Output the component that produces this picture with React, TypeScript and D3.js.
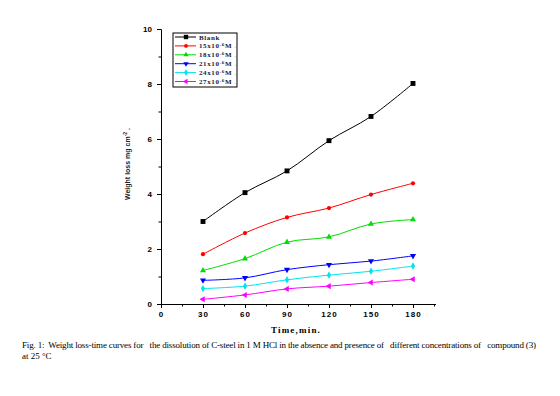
import React, { useEffect, useRef } from 'react';
import * as d3 from 'd3';

// tempi (min) e perdite di peso
const times = [30, 60, 90, 120, 150, 180];
const blank = [3.0, 4.05, 4.84, 5.94, 6.82, 8.02];
const c15 = [1.81, 2.58, 3.15, 3.49, 3.98, 4.39];
const c18 = [1.22, 1.65, 2.25, 2.44, 2.91, 3.07];
const c21 = [0.86, 0.95, 1.25, 1.43, 1.56, 1.75];
const c24 = [0.56, 0.65, 0.88, 1.05, 1.19, 1.38];
const c27 = [0.17, 0.33, 0.55, 0.65, 0.78, 0.9];

const seriesNames = ['Blank', '15', '18', '21', '24', '27'];
const seriesColors = ['#000000', '#ff0000', '#00dd00', '#0000ff', '#00e5ee', '#ff00ff'];
const xTicks = [0, 30, 60, 90, 120, 150, 180];
const yTicks = [0, 2, 4, 6, 8, 10];

const App: React.FC = () => {
  const ref = useRef<SVGSVGElement>(null);

  useEffect(() => {
    const svg = d3.select(ref.current);
    svg.selectAll('*').remove();

    const x = d3.scaleLinear().domain([0, 196]).range([161, 435.4]);
    const y = d3.scaleLinear().domain([0, 10]).range([304, 29]);

    const values = [blank, c15, c18, c21, c24, c27];
    const symbols = [
      { type: d3.symbolSquare, size: 24, rot: 0 },
      { type: d3.symbolCircle, size: 14, rot: 0 },
      { type: d3.symbolTriangle, size: 16, rot: 0 },
      { type: d3.symbolTriangle, size: 16, rot: 180 },
      { type: d3.symbolDiamond, size: 16, rot: 0 },
      { type: d3.symbolTriangle, size: 16, rot: -90 },
    ];

    // Asse X: tacche minori + maggiori con etichette
    svg
      .append('g')
      .attr('transform', `translate(0,${y(0)})`)
      .call(d3.axisBottom(x).tickValues(d3.range(15, 196, 30)).tickSize(2.5).tickFormat(() => '').tickSizeOuter(0));
    const xAxis = svg
      .append('g')
      .attr('transform', `translate(0,${y(0)})`)
      .call(d3.axisBottom(x).tickValues(xTicks).tickSize(4).tickPadding(3).tickSizeOuter(0).tickFormat(d3.format('d')));
    xAxis
      .selectAll('text')
      .attr('fill', '#000')
      .attr('font-family', 'Liberation Sans, Arial, sans-serif')
      .attr('font-weight', 'bold')
      .attr('font-size', 8)
      .attr('letter-spacing', 1);

    // Asse Y
    svg
      .append('g')
      .attr('transform', `translate(${x(0)},0)`)
      .call(d3.axisLeft(y).tickValues(d3.range(1, 10, 2)).tickSize(2.5).tickFormat(() => '').tickSizeOuter(0));
    const yAxis = svg
      .append('g')
      .attr('transform', `translate(${x(0)},0)`)
      .call(d3.axisLeft(y).tickValues(yTicks).tickSize(4).tickPadding(5).tickSizeOuter(0).tickFormat(d3.format('d')));
    yAxis
      .selectAll('text')
      .attr('fill', '#000')
      .attr('font-family', 'Liberation Sans, Arial, sans-serif')
      .attr('font-weight', 'bold')
      .attr('font-size', 8);

    // Titoli degli assi
    svg
      .append('text')
      .attr('x', 296)
      .attr('y', 333)
      .attr('text-anchor', 'middle')
      .attr('font-family', 'Liberation Serif, Times New Roman, serif')
      .attr('font-weight', 'bold')
      .attr('font-size', 9)
      .attr('letter-spacing', 1.2)
      .text('Time,min.');

    const yt = svg
      .append('text')
      .attr('transform', 'translate(130,164) rotate(-90)')
      .attr('text-anchor', 'middle')
      .attr('font-family', 'Liberation Sans, Arial, sans-serif')
      .attr('font-weight', 'bold')
      .attr('font-size', 7)
      .attr('fill', '#222');
    yt.append('tspan').text('Weight loss mg cm');
    yt.append('tspan').attr('dy', -3).attr('font-size', 5).text('-2');
    yt.append('tspan').attr('dy', 3).text(' .');

    // Curve
    const line = d3
      .line<number>()
      .x((_, i) => x(times[i]))
      .y(d => y(d))
      .curve(d3.curveCatmullRom.alpha(0.5));

    values.forEach((vals, s) => {
      svg
        .append('path')
        .attr('d', line(vals))
        .attr('fill', 'none')
        .attr('stroke', seriesColors[s])
        .attr('stroke-width', 1);
      const sym = d3.symbol().type(symbols[s].type).size(symbols[s].size);
      svg
        .selectAll(`.m${s}`)
        .data(vals)
        .enter()
        .append('path')
        .attr('class', `m${s}`)
        .attr('d', sym()!)
        .attr('transform', (d, i) => `translate(${x(times[i])},${y(d)}) rotate(${symbols[s].rot})`)
        .attr('fill', seriesColors[s]);
    });

    // Legenda
    const lg = svg.append('g');
    lg.append('rect')
      .attr('x', 173)
      .attr('y', 33)
      .attr('width', 64)
      .attr('height', 54)
      .attr('fill', '#fff')
      .attr('stroke', '#000')
      .attr('stroke-width', 1);
    seriesNames.forEach((name, s) => {
      const ry = 37 + s * 8.9;
      lg.append('line')
        .attr('x1', 175)
        .attr('x2', 196)
        .attr('y1', ry)
        .attr('y2', ry)
        .attr('stroke', seriesColors[s]);
      lg.append('path')
        .attr('d', d3.symbol().type(symbols[s].type).size(symbols[s].size * 0.8)()!)
        .attr('transform', `translate(186,${ry}) rotate(${symbols[s].rot})`)
        .attr('fill', seriesColors[s]);
      const t = lg
        .append('text')
        .attr('x', 199)
        .attr('y', ry + 2.5)
        .attr('font-family', 'Liberation Serif, Times New Roman, serif')
        .attr('font-weight', 'bold')
        .attr('font-size', 7)
        .attr('letter-spacing', 0.6)
        .attr('fill', '#1a1a3a');
      if (s === 0) {
        t.text(name);
      } else {
        t.append('tspan').text(`${name}x10`);
        t.append('tspan').attr('dy', -2.5).attr('font-size', 5).text('-6');
        t.append('tspan').attr('dy', 2.5).text('M');
        t.append('tspan').attr('fill', '#999').attr('font-weight', 'normal').text(' .');
      }
    });

    // Didascalia
    svg
      .append('text')
      .attr('x', 22)
      .attr('y', 348)
      .attr('font-family', 'Liberation Serif, Times New Roman, serif')
      .attr('font-size', 9)
      .attr('textLength', 514)
      .attr('lengthAdjust', 'spacing')
      .style('white-space', 'pre')
      .text(
        'Fig. 1:  Weight loss-time curves for   the dissolution of C-steel in 1 M HCl in the absence and presence of   different concentrations of   compound (3)'
      );
    svg
      .append('text')
      .attr('x', 22)
      .attr('y', 359)
      .attr('font-family', 'Liberation Serif, Times New Roman, serif')
      .attr('font-size', 9)
      .text('at 25 °C');
  }, []);

  return (
    <svg
      ref={ref}
      width={560}
      height={396}
      style={{ position: 'absolute', left: 0, top: 0, background: '#fff' }}
    />
  );
};

export default App;
